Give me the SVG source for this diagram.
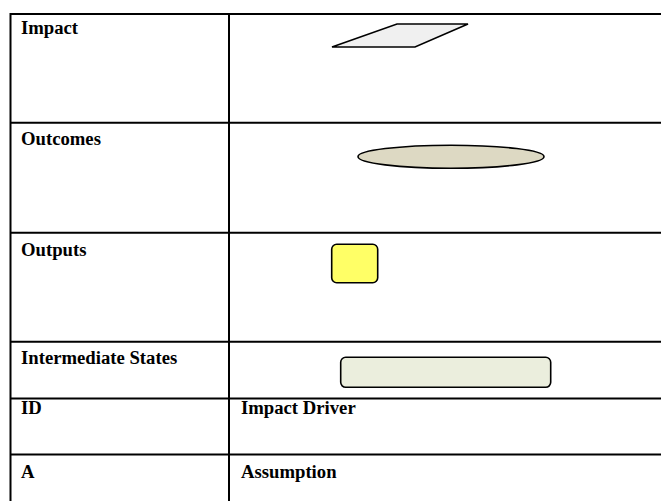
<svg xmlns="http://www.w3.org/2000/svg" width="661" height="501" viewBox="0 0 661 501">
<style>
.grid{stroke:#000;stroke-width:2;fill:none}
.lbl{font-family:"Liberation Serif","Times New Roman",serif;font-weight:bold;font-size:18.7px;fill:#000}
.shape{stroke:#000;stroke-width:1.6}
</style>
<rect width="661" height="501" fill="#fff"/>
<g id="table">
<path class="grid" d="M10.5 14 H661 M10.5 13 V501 M229 13 V501 M10.5 122.7 H661 M10.5 232.7 H661 M10.5 341.7 H661 M10.5 398.5 H661 M10.5 454.5 H661"/>
</g>
<g id="impact">
<text class="lbl" x="21" y="33.5">Impact</text>
<polygon class="shape" points="332,47 397,24 468,24 415,47" fill="#f0f0f0"/>
</g>
<g id="outcomes">
<text class="lbl" x="21" y="145">Outcomes</text>
<ellipse class="shape" cx="451" cy="156.7" rx="93" ry="11.5" fill="#ddd9c3"/>
</g>
<g id="outputs">
<text class="lbl" x="21" y="256">Outputs</text>
<rect class="shape" x="331.7" y="244.3" width="46" height="38.4" rx="5" fill="#ffff66"/>
</g>
<g id="intermediate">
<text class="lbl" x="21" y="363.5">Intermediate States</text>
<rect class="shape" x="340.7" y="357.3" width="210" height="30" rx="5" fill="#ebeedd"/>
</g>
<g id="id-row">
<text class="lbl" x="21" y="414">ID</text>
<text class="lbl" x="241" y="414">Impact Driver</text>
</g>
<g id="a-row">
<text class="lbl" x="21" y="478">A</text>
<text class="lbl" x="241" y="478">Assumption</text>
</g>
</svg>
